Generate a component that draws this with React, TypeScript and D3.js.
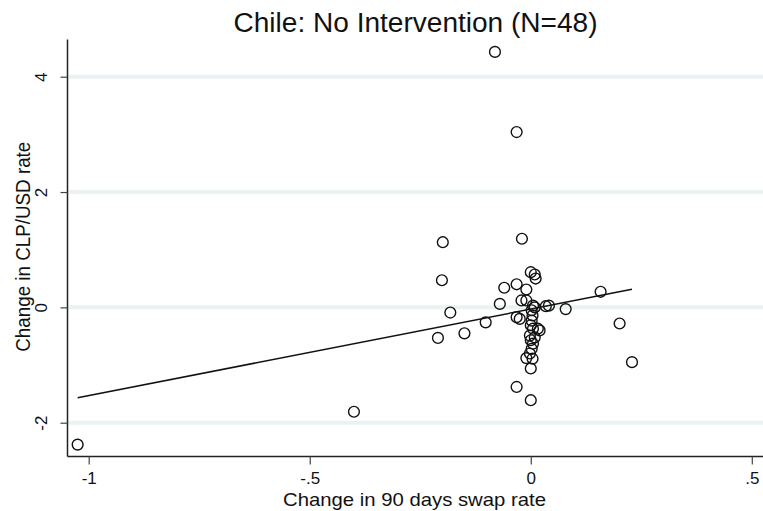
import React, { useEffect, useRef } from 'react';
import * as d3 from 'd3';

// swap rate change (x) vs CLP/USD change (y)
const swapChange = [
  -1.025, -0.40, -0.081, -0.032, -0.199, -0.020, -0.201, -0.182, -0.102, -0.150,
  -0.210, 0.158, 0.201, 0.229, -0.032, 0.000, 0.079, -0.070, -0.060, -0.032,
  -0.010, 0.034, 0.041, 0.000, 0.009, 0.011, -0.021, -0.010, 0.005, 0.009,
  -0.032, -0.025, 0.002, 0.004, 0.002, 0.000, 0.005, 0.016, 0.020, -0.002,
  0.009, 0.000, 0.005, 0.002, -0.002, -0.010, 0.004, 0.000,
];
const fxChange = [
  -2.38, -1.81, 4.43, 3.04, 1.13, 1.19, 0.47, -0.09, -0.26, -0.45,
  -0.53, 0.27, -0.28, -0.95, -1.38, -1.61, -0.03, 0.06, 0.34, 0.40,
  0.31, 0.02, 0.03, 0.61, 0.57, 0.50, 0.12, 0.12, 0.03, 0.00,
  -0.17, -0.20, -0.05, -0.14, -0.23, -0.31, -0.37, -0.37, -0.40, -0.49,
  -0.52, -0.57, -0.63, -0.72, -0.80, -0.88, -0.89, -1.06,
];
const fitIntercept = -0.03;
const fitSlope = 1.5;
const xTicks = [-1, -0.5, 0, 0.5];
const yTicks = [-2, 0, 2, 4];
const title = 'Chile: No Intervention (N=48)';
const xTitle = 'Change in 90 days swap rate';
const yTitle = 'Change in CLP/USD rate';

// stata style: drop leading zero
const fmt = (v: number) => String(v).replace(/^0\./, '.').replace(/^-0\./, '-.');

export default function App() {
  const ref = useRef<SVGSVGElement>(null);

  useEffect(() => {
    const width = 763, height = 511;
    const left = 67.5, right = 763, top = 39.5, bottom = 456.5;
    const svg = d3.select(ref.current);
    svg.selectAll('*').remove();

    const x = d3.scaleLinear().domain([-1, 0.5]).range([88.7, 751.8]);
    const y = d3.scaleLinear().domain([-2, 4]).range([422.7, 76.7]);

    svg.append('rect').attr('width', width).attr('height', height).attr('fill', '#fff');

    // grid
    svg.append('g').selectAll('line').data(yTicks).enter().append('line')
      .attr('x1', left + 1).attr('x2', right)
      .attr('y1', d => y(d)).attr('y2', d => y(d))
      .attr('stroke', '#eaf2f3').attr('stroke-width', 4);

    // axes
    const font = 'Liberation Sans, Arial, sans-serif';
    const yAxis = svg.append('g').attr('transform', `translate(${left},0)`)
      .call(d3.axisLeft(y).tickValues(yTicks).tickSize(7).tickFormat(d => fmt(+d)));
    yAxis.select('.domain').attr('d', `M0,${top}V${bottom}`).attr('stroke', '#222').attr('stroke-width', 1.5);
    yAxis.selectAll('.tick line').attr('stroke', '#444').attr('stroke-width', 1.2);
    yAxis.selectAll('.tick text')
      .attr('x', null).attr('dy', null)
      .attr('transform', 'translate(-21,0) rotate(-90)')
      .attr('text-anchor', 'middle')
      .attr('font-family', font).attr('font-size', 17).attr('fill', '#111');

    const xAxis = svg.append('g').attr('transform', `translate(0,${bottom})`)
      .call(d3.axisBottom(x).tickValues(xTicks).tickSize(8).tickFormat(d => fmt(+d)));
    xAxis.select('.domain').attr('d', `M${left},0H${right}`).attr('stroke', '#222').attr('stroke-width', 1.5);
    xAxis.selectAll('.tick line').attr('stroke', '#444').attr('stroke-width', 1.2);
    xAxis.selectAll('.tick text').attr('y', 27.5).attr('dy', null)
      .attr('font-family', font).attr('font-size', 17).attr('fill', '#111');

    // fit line
    const xs = d3.extent(swapChange) as [number, number];
    svg.append('line')
      .attr('x1', x(xs[0])).attr('y1', y(fitIntercept + fitSlope * xs[0]))
      .attr('x2', x(xs[1])).attr('y2', y(fitIntercept + fitSlope * xs[1]))
      .attr('stroke', '#111').attr('stroke-width', 1.5);

    // points
    svg.append('g').selectAll('circle').data(swapChange).enter().append('circle')
      .attr('cx', d => x(d)).attr('cy', (_, i) => y(fxChange[i]))
      .attr('r', 5.4).attr('fill', 'none').attr('stroke', '#111').attr('stroke-width', 1.4);

    // titles
    svg.append('text').attr('x', 415.5).attr('y', 32).attr('text-anchor', 'middle')
      .attr('font-family', font).attr('font-size', 27).attr('fill', '#111')
      .attr('textLength', 364).attr('lengthAdjust', 'spacingAndGlyphs').text(title);
    svg.append('text').attr('x', 414.5).attr('y', 506).attr('text-anchor', 'middle')
      .attr('font-family', font).attr('font-size', 19).attr('fill', '#111')
      .attr('textLength', 263).attr('lengthAdjust', 'spacingAndGlyphs').text(xTitle);
    svg.append('text').attr('transform', 'translate(30,246.7) rotate(-90)').attr('text-anchor', 'middle')
      .attr('font-family', font).attr('font-size', 20).attr('fill', '#111')
      .attr('textLength', 210).attr('lengthAdjust', 'spacingAndGlyphs').text(yTitle);
  }, []);

  return (
    <svg ref={ref} width={763} height={511}
      style={{ position: 'absolute', left: 0, top: 0, display: 'block' }} />
  );
}
